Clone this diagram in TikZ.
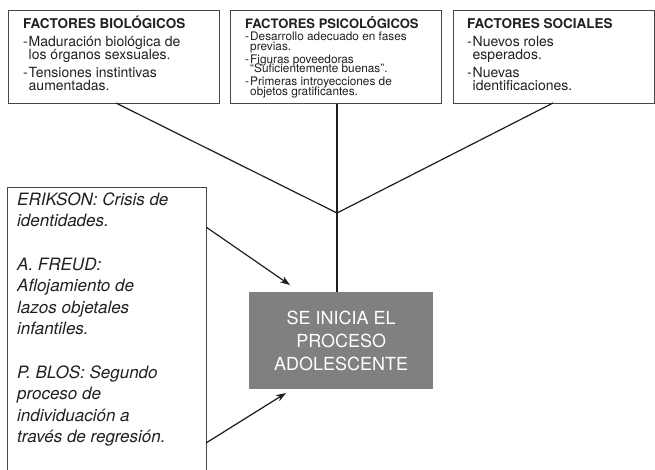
\documentclass[tikz,border=0pt]{standalone}
\usepackage{fontspec}
\setmainfont{TeX Gyre Heros}
\usetikzlibrary{arrows.meta}
\definecolor{ink}{RGB}{35,31,32}
\definecolor{framec}{RGB}{70,70,72}
\definecolor{boxgray}{RGB}{128,128,131}
\definecolor{linec}{RGB}{30,30,30}
\begin{document}
\begin{tikzpicture}[x=1pt,y=-1pt,
  boxframe/.style={draw=framec, line width=0.9pt, rectangle, inner sep=0pt, anchor=north west},
  ttl/.style={anchor=base west, inner sep=0pt, text=ink, font=\fontsize{13.5}{13.5}\selectfont\bfseries},
  itm/.style={anchor=base west, inner sep=0pt, text=ink, font=\fontsize{14}{14}\selectfont},
  itms/.style={anchor=base west, inner sep=0pt, text=ink, font=\fontsize{11.8}{11.8}\selectfont},
  lft/.style={anchor=base west, inner sep=0pt, text=ink, font=\fontsize{17}{17}\selectfont\itshape},
  conn/.style={draw=linec, line width=1.2pt},
  arr/.style={conn, -{Stealth[length=10pt,width=7pt,inset=3pt]}},
  centerbox/.style={fill=boxgray, inner sep=0pt, minimum width=184pt, minimum height=97pt, anchor=north west,
    text=white, align=center, font=\fontsize{18}{23}\selectfont}
]
\useasboundingbox (0,0) rectangle (655,469);
\fill[white] (0,0) rectangle (655,469);

% top boxes
\node[boxframe, minimum width=211pt, minimum height=93pt] (b1) at (8,10) {};
\node[boxframe, minimum width=211pt, minimum height=93pt] (b2) at (230,10) {};
\node[boxframe, minimum width=201pt, minimum height=93pt] (b3) at (453,10) {};

% box 1 text
\node[ttl] (b1t) at (23,28) {FACTORES BIOLÓGICOS};
\node[itm] (b1a) at (23,46) {\makebox[5.5pt][l]{-}Maduración biológica de};
\node[itm] (b1b) at (28.5,59) {los órganos sexsuales.};
\node[itm] (b1c) at (23,77) {\makebox[5.5pt][l]{-}Tensiones instintivas};
\node[itm] (b1d) at (28.5,90) {aumentadas.};

% box 2 text
\node[ttl, font=\fontsize{13}{13}\selectfont\bfseries] (b2t) at (245,28) {FACTORES PSICOLÓGICOS};
\node[itms] (b2a) at (245,40.5) {\makebox[5pt][l]{-}Desarrollo adecuado en fases};
\node[itms] (b2b) at (250,50) {previas.};
\node[itms] (b2c) at (245,63) {\makebox[5pt][l]{-}Figuras poveedoras};
\node[itms] (b2d) at (250,72.5) {“Suficientemente buenas”.};
\node[itms] (b2e) at (245,85.5) {\makebox[5pt][l]{-}Primeras introyecciones de};
\node[itms] (b2f) at (250,95) {objetos gratificantes.};

% box 3 text
\node[ttl] (b3t) at (467,28) {FACTORES SOCIALES};
\node[itm] (b3a) at (467,46) {\makebox[5.5pt][l]{-}Nuevos roles};
\node[itm] (b3b) at (472.5,59) {esperados.};
\node[itm] (b3c) at (467,77) {\makebox[5.5pt][l]{-}Nuevas};
\node[itm] (b3d) at (472.5,90) {identificaciones.};

% left box (open at the bottom of the page)
\node[boxframe, minimum width=199pt, minimum height=300pt] (lb) at (7,187) {};
\foreach \t/\yy [count=\i] in {ERIKSON: Crisis de/205, identidades./226.6,
  A. FREUD:/270, Aflojamiento de/291.6, lazos objetales/313.2, infantiles./334.8,
  P. BLOS: Segundo/378, proceso de/399.6, individuación a/421.2, través de regresión./442.8}
  \node[lft] (lt\i) at (17,\yy) {\t};

% central box
\node[centerbox] (cb) at (249,292) {SE INICIA EL\\PROCESO\\ADOLESCENTE};

% connectors
\coordinate (J) at (337,213);
\coordinate (b1o) at (116,103);
\coordinate (b3o) at (553,103);
\draw[conn] (b1o) -- (J);
\draw[conn] (b3o) -- (J);
\draw[conn] (J |- b2.south) -- (J);
\draw[conn] (J) -- (J |- cb.north);

\coordinate (a1s) at (206,227);
\coordinate (a1e) at (290,285);
\coordinate (a2s) at (206,443);
\coordinate (a2e) at (286,393);
\draw[arr] (a1s) -- (a1e);
\draw[arr] (a2s) -- (a2e);
\end{tikzpicture}
\end{document}
